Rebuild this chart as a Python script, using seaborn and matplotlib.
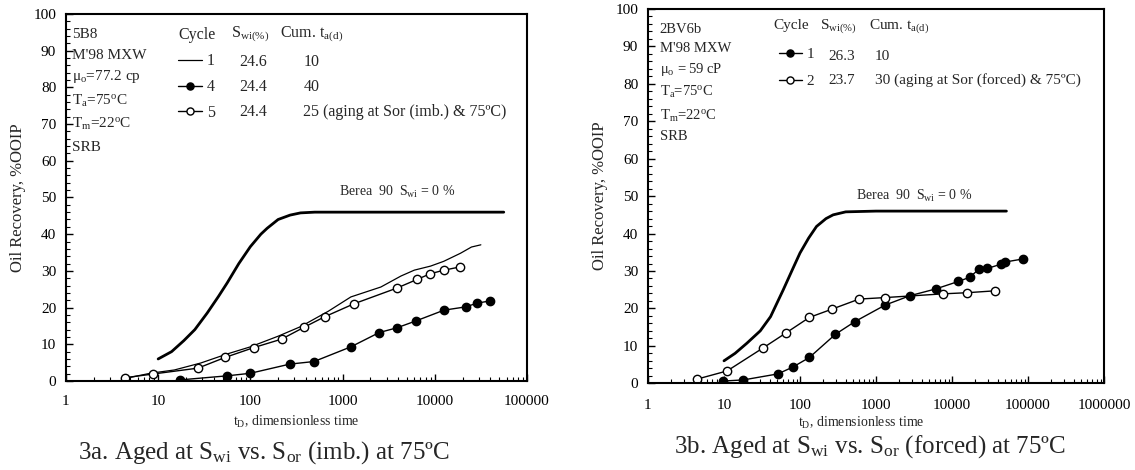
import matplotlib
matplotlib.use("Agg")
import matplotlib.pyplot as plt
import seaborn as sns
from matplotlib.ticker import MultipleLocator, LogLocator, FuncFormatter, NullFormatter

# Fig 3a: 5B8, aged at Swi vs Sor (imb.)
berea_a_t = [10, 14, 19, 25, 34, 45, 56, 75, 100, 130, 152, 200, 270, 350, 500, 1000, 5000, 56000]
berea_a_r = [6, 8, 11, 14, 18.5, 23, 26.7, 32, 36.6, 40, 41.6, 44, 45.2, 45.8, 46, 46, 46, 46]

cyc1_a_t = [4.6, 8.2, 15, 29, 55, 100, 200, 350, 700, 1230, 2600, 4300, 6000, 9000, 12500, 19000, 25000, 31600]
cyc1_a_r = [0.8, 2.1, 3.0, 4.9, 7.3, 9.3, 12.2, 14.8, 19.0, 22.9, 25.6, 28.6, 30.2, 31.3, 32.6, 34.8, 36.5, 37.1]

cyc4_a_t = [17.4, 56, 100, 268, 490, 1230, 2500, 3900, 6300, 12600, 21800, 28600, 39500]
cyc4_a_r = [0.3, 1.4, 2.1, 4.6, 5.3, 9.3, 13.2, 14.5, 16.4, 19.3, 20.2, 21.2, 21.8]

cyc5_a_t = [4.4, 8.8, 27, 53, 109, 218, 380, 640, 1320, 3870, 6470, 8900, 12600, 19000]
cyc5_a_r = [0.9, 1.9, 3.5, 6.4, 9.1, 11.4, 14.6, 17.5, 21.0, 25.3, 27.7, 29.2, 30.2, 31.1]

# Fig 3b: 2BV6b, aged at Swi vs Sor (forced)
berea_b_t = [10, 14, 20, 30, 41, 60, 80, 100, 130, 165, 220, 273, 400, 1000, 10000, 52000]
berea_b_r = [6, 8, 10.7, 14, 17.8, 24.9, 30.5, 34.8, 38.8, 41.9, 44, 45, 45.8, 46, 46, 46]

cyc1_b_t = [9.8, 18, 51, 80, 133, 293, 530, 1320, 2800, 6100, 12100, 17000, 23000, 29300, 44000, 50000, 85000]
cyc1_b_r = [0.6, 0.9, 2.5, 4.3, 6.9, 13.1, 16.5, 20.9, 23.4, 25.2, 27.2, 28.3, 30.6, 30.7, 31.8, 32.4, 33.2]

cyc2_b_t = [4.4, 11, 33, 66, 133, 263, 600, 1320, 7700, 15900, 36600]
cyc2_b_r = [1.1, 3.3, 9.5, 13.5, 17.6, 19.8, 22.5, 22.9, 23.9, 24.2, 24.7]

# legend table text
cycles_a = ["1", "4", "5"]
swi_a = ["24.6", "24.4", "24.4"]
cum_a = ["10", "40", "25 (aging at Sor (imb.) & 75ºC)"]
info_a = ["5B8", "M'98 MXW", "μ$_{\\mathrm{o}}$=77.2 cp", "T$_{\\mathrm{a}}$=75$^{\\mathrm{o}}$C",
          "T$_{\\mathrm{m}}$=22$^{\\mathrm{o}}$C", "SRB"]

cycles_b = ["1", "2"]
swi_b = ["26.3", "23.7"]
cum_b = ["10", "30 (aging at Sor (forced) & 75ºC)"]
info_b = ["2BV6b", "M'98 MXW", "μ$_{\\mathrm{o}}$ = 59 cP", "T$_{\\mathrm{a}}$=75$^{\\mathrm{o}}$C",
          "T$_{\\mathrm{m}}$=22$^{\\mathrm{o}}$C", "SRB"]

sns.set_style("ticks")
plt.rcParams["font.family"] = ["Liberation Serif", "DejaVu Serif"]
plt.rcParams["mathtext.fontset"] = "custom"
plt.rcParams["mathtext.rm"] = "Liberation Serif"
plt.rcParams["mathtext.it"] = "Liberation Serif:italic"
plt.rcParams["mathtext.bf"] = "Liberation Serif:bold"

fig = plt.figure(figsize=(11.35, 4.7), dpi=100)
ax_a = fig.add_axes([0.0581, 0.1894, 0.4062, 0.7809])
ax_b = fig.add_axes([0.5709, 0.1845, 0.4018, 0.7964])


def series(ax, t, r, marker=None, fill="black", lw=1.0):
    sns.lineplot(x=t, y=r, ax=ax, estimator=None, sort=False, color="black", lw=lw,
                 marker=marker if marker else "", markersize=6,
                 markerfacecolor=fill, markeredgecolor="black", markeredgewidth=1.0,
                 legend=False)
    return ax.get_lines()[-1]


def style_axes(ax, xmax, xpad):
    ax.set_xscale("log")
    ax.set_xlim(1, xmax)
    ax.set_ylim(0, 100)
    ax.yaxis.set_major_locator(MultipleLocator(10))
    ax.yaxis.set_minor_locator(MultipleLocator(2))
    ax.xaxis.set_major_locator(LogLocator(base=10, numticks=10))
    ax.xaxis.set_minor_locator(LogLocator(base=10, subs=range(2, 10), numticks=30))
    ax.xaxis.set_major_formatter(FuncFormatter(lambda v, p: f"{int(round(v))}"))
    ax.xaxis.set_minor_formatter(NullFormatter())
    ax.tick_params(which="both", direction="in", top=False, right=False, labelsize=11, colors="black")
    ax.tick_params(which="major", length=5, width=1)
    ax.tick_params(which="minor", length=3, width=0.8)
    ax.tick_params(axis="x", which="major", pad=xpad)
    ax.tick_params(axis="y", which="major", pad=7)
    for s in ax.spines.values():
        s.set_linewidth(1.5)
        s.set_color("black")
    ax.set_ylabel("Oil Recovery, %OOIP", fontsize=12, labelpad=5)
    ax.set_xlabel("t$_{\\mathrm{D}}$, dimensionless time", fontsize=10)


def table(ax, handles, cycles, swi, cum, info, fs, fs_info, spacing,
          x_leg, x_cyc, x_swi, x_cum_h, x_cum, y_head, y_rows, y_info, x_info):
    ax.text(x_cyc, y_head, "Cycle", transform=ax.transAxes, ha="center", va="center", fontsize=fs)
    ax.text(x_swi, y_head, "S$_{\\mathrm{wi(\\%)}}$", transform=ax.transAxes, ha="center", va="center", fontsize=fs)
    ax.text(x_cum_h, y_head, "Cum. t$_{\\mathrm{a(d)}}$", transform=ax.transAxes, ha="left", va="center", fontsize=fs)
    for c, s, m, y in zip(cycles, swi, cum, y_rows):
        ax.text(x_swi + 0.007, y, s, transform=ax.transAxes, ha="center", va="center", fontsize=fs)
        ax.text(x_cum, y, m, transform=ax.transAxes, ha="left", va="center", fontsize=fs)
    ax.legend(handles, cycles, loc="upper left", bbox_to_anchor=(x_leg, y_rows[0] + 0.024),
              frameon=False, fontsize=fs, handlelength=1.5, handletextpad=0.3,
              borderpad=0, borderaxespad=0, labelspacing=spacing, markerscale=0.85)
    for i, txt in enumerate(info):
        ax.text(x_info, y_info[i], txt, transform=ax.transAxes, ha="left", va="center", fontsize=fs_info)


# ---- 3a ----
series(ax_a, berea_a_t, berea_a_r, lw=2.0)
h1 = series(ax_a, cyc1_a_t, cyc1_a_r, lw=0.9)
h4 = series(ax_a, cyc4_a_t, cyc4_a_r, marker="o", fill="black")
h5 = series(ax_a, cyc5_a_t, cyc5_a_r, marker="o", fill="white")
style_axes(ax_a, 100000, 10)
ax_a.text(0.844, 0.493, "Berea  90  S$_{\\mathrm{wi}}$ = 0 %", transform=ax_a.transAxes,
          ha="right", va="bottom", fontsize=10)
table(ax_a, [h1, h4, h5], cycles_a, swi_a, cum_a, info_a, 11.5, 11, 0.62,
      x_leg=0.243, x_cyc=0.284, x_swi=0.399, x_cum_h=0.464, x_cum=0.515,
      y_head=0.943, y_rows=[0.869, 0.801, 0.733],
      y_info=[0.943, 0.888, 0.830, 0.763, 0.700, 0.635], x_info=0.013)

# ---- 3b ----
series(ax_b, berea_b_t, berea_b_r, lw=2.0)
g1 = series(ax_b, cyc1_b_t, cyc1_b_r, marker="o", fill="black")
g2 = series(ax_b, cyc2_b_t, cyc2_b_r, marker="o", fill="white")
style_axes(ax_b, 1000000, 11)
ax_b.xaxis.set_label_coords(0.467, -0.085)
ax_b.text(0.712, 0.48, "Berea  90  S$_{\\mathrm{wi}}$ = 0 %", transform=ax_b.transAxes,
          ha="right", va="bottom", fontsize=10)
table(ax_b, [g1, g2], cycles_b, swi_b, cum_b, info_b, 11, 10.5, 0.9,
      x_leg=0.287, x_cyc=0.313, x_swi=0.417, x_cum_h=0.485, x_cum=0.498,
      y_head=0.955, y_rows=[0.874, 0.810],
      y_info=[0.944, 0.895, 0.839, 0.779, 0.714, 0.659], x_info=0.026)

fig.text(264 / 1135, 1 - 453 / 470, "3a. Aged at S$_{\\mathrm{wi}}$ vs. S$_{\\mathrm{or}}$ (imb.) at 75ºC",
         ha="center", va="center", fontsize=18)
fig.text(870 / 1135, 1 - 447 / 470, "3b. Aged at S$_{\\mathrm{wi}}$ vs. S$_{\\mathrm{or}}$ (forced) at 75ºC",
         ha="center", va="center", fontsize=18)

fig.savefig("out.png", dpi=100)
